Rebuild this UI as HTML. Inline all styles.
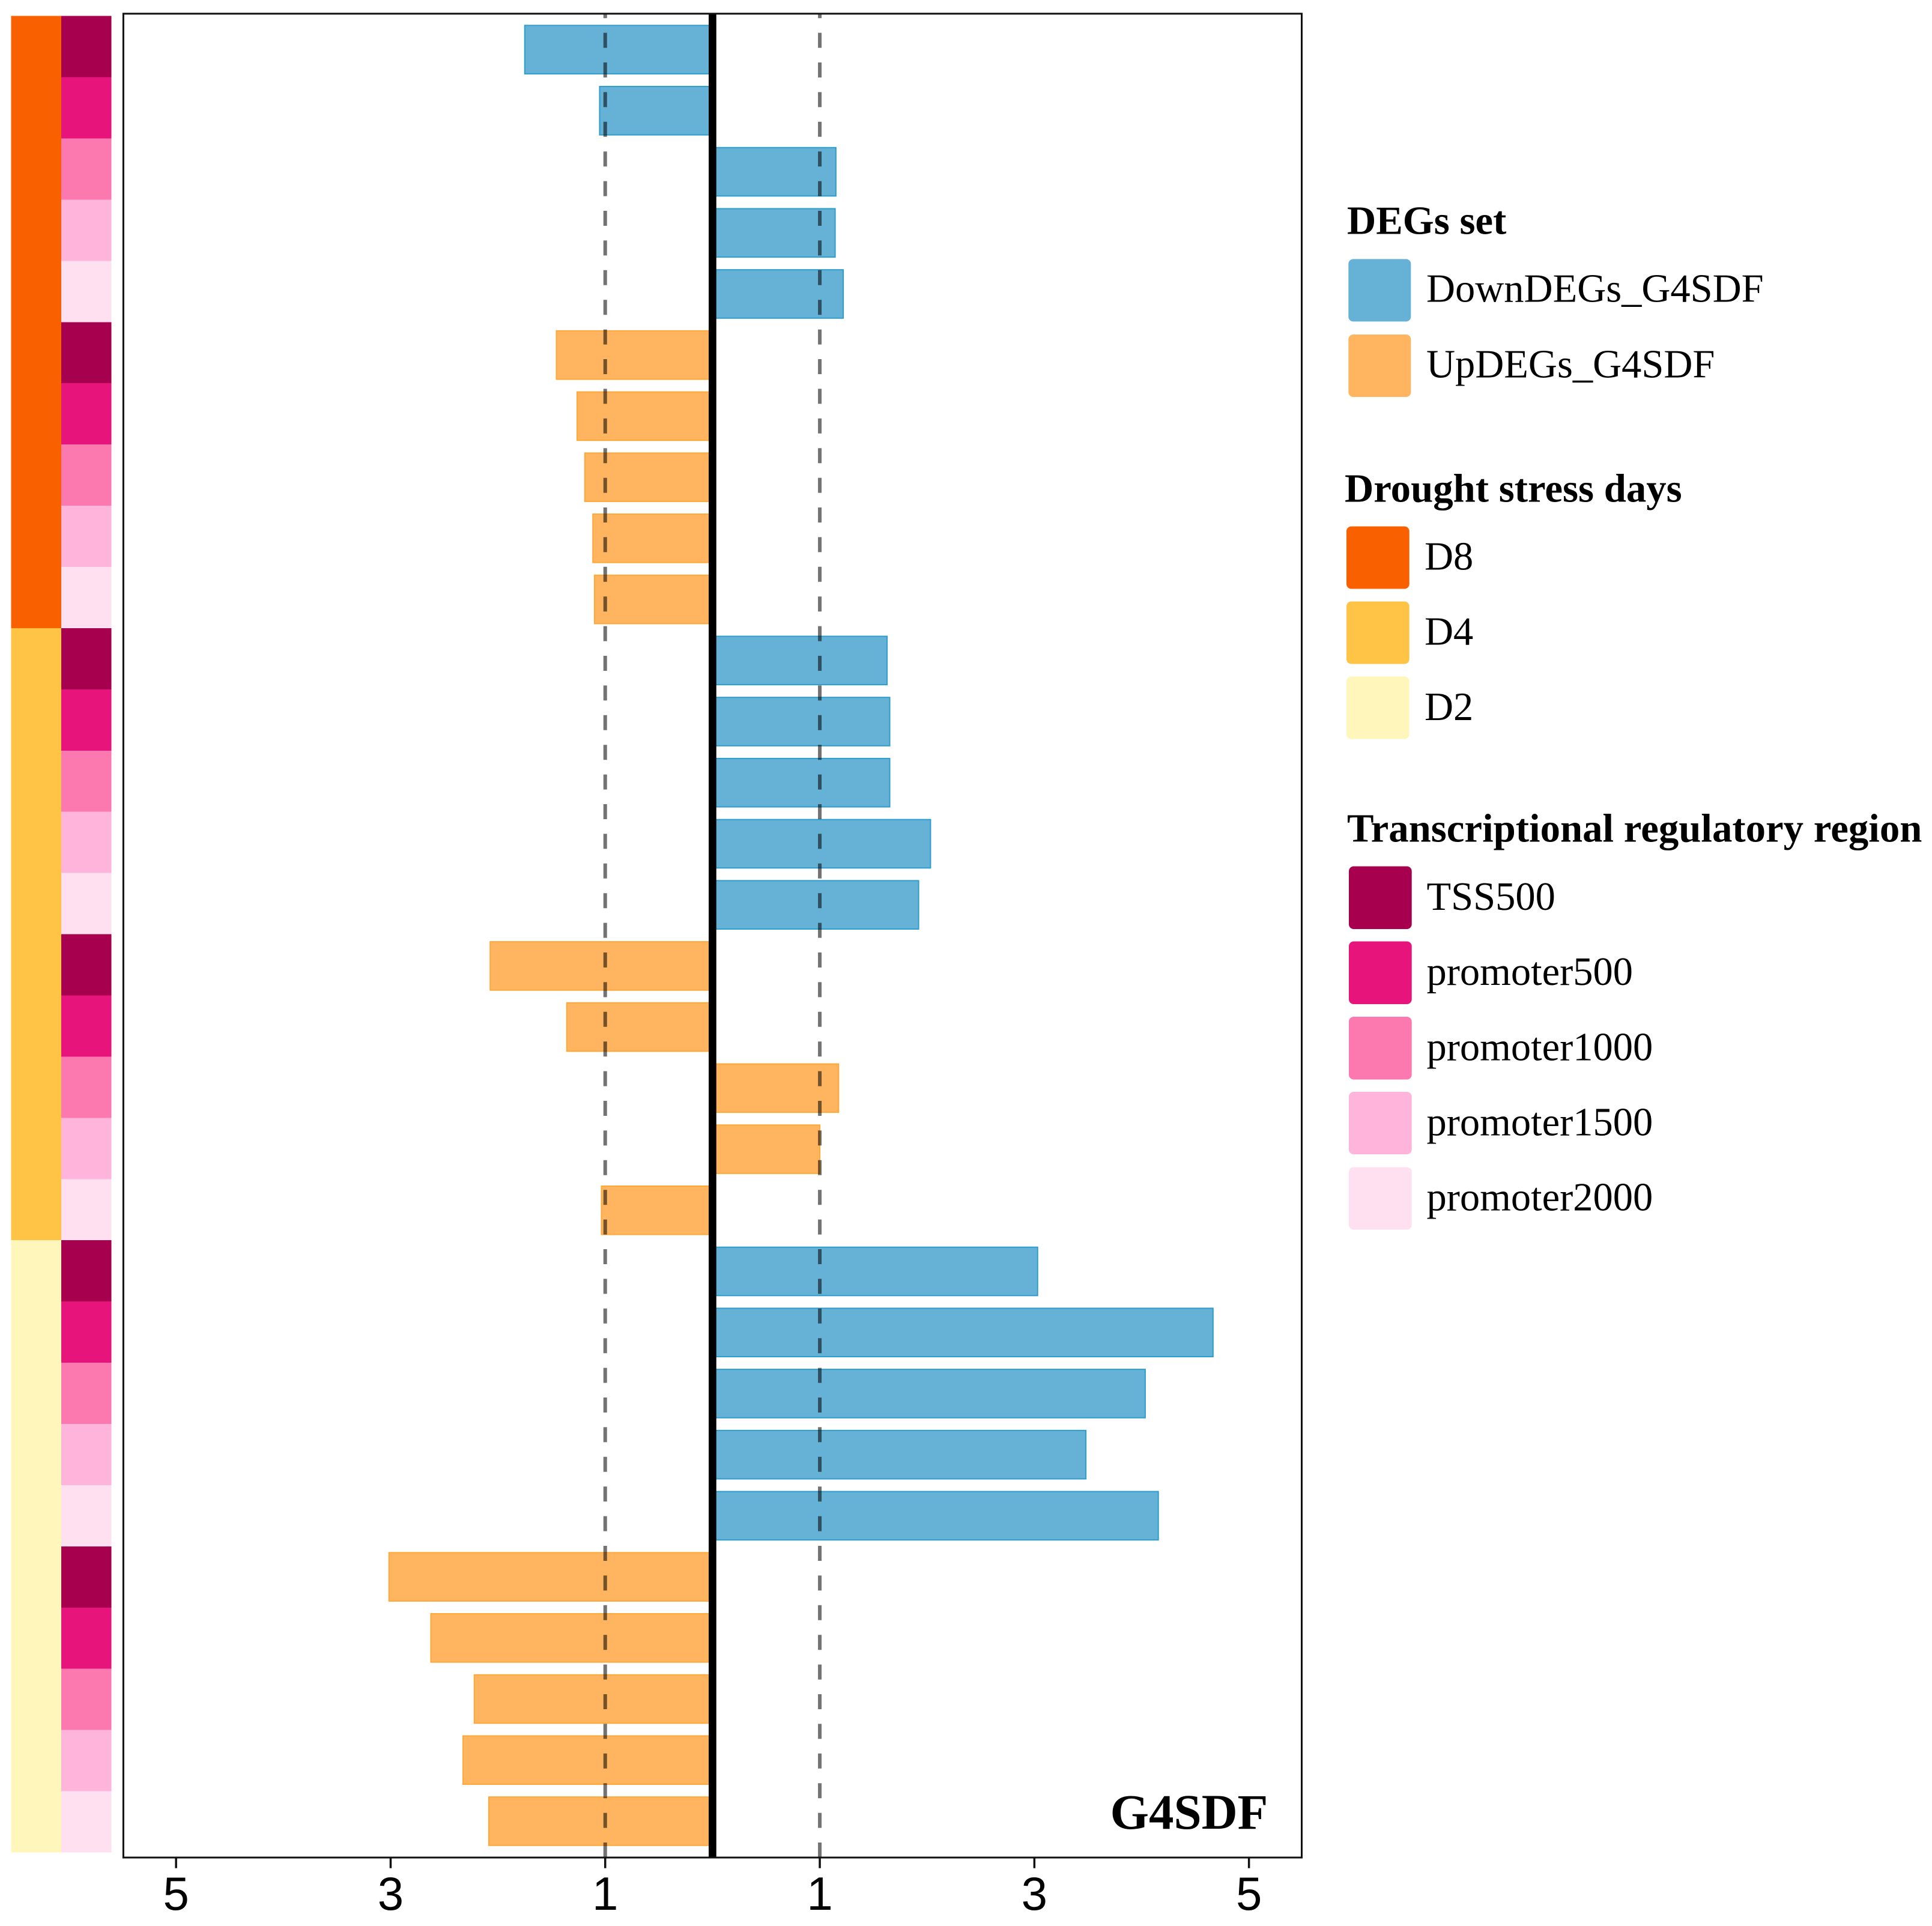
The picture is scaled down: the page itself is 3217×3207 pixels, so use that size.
<!DOCTYPE html>
<html lang="en">
<head>
<meta charset="utf-8">
<title>G4SDF DEGs chart</title>
<style>
html,body{margin:0;padding:0;background:#fff;}
svg{display:block;}
.leg-title{font-family:"Liberation Serif",serif;font-weight:bold;font-size:66.8px;fill:#000;}
.leg-label{font-family:"Liberation Serif",serif;font-size:66.5px;fill:#000;}
.tick-label{font-family:"Liberation Sans",sans-serif;font-size:78px;fill:#000;text-anchor:middle;}
.panel-tag{font-family:"Liberation Serif",serif;font-weight:bold;font-size:83px;fill:#000;}
</style>
</head>
<body>
<svg id="chart" xmlns="http://www.w3.org/2000/svg" width="3217" height="3207" viewBox="0 0 3217 3207">
  <rect x="0" y="0" width="3217" height="3207" fill="#fff"/>
  <g id="heat"></g>
  <g id="bars"></g>
  <g id="refs"></g>
  <g id="axis"></g>

  <text class="panel-tag" x="1848.5" y="3045">G4SDF</text>

  <g>
    <text class="leg-title" x="2243" y="389.5">DEGs set</text>
    <rect x="2245.3" y="431.4" width="104" height="104" rx="8" fill="#66B2D6"/>
    <text class="leg-label" x="2375" y="502.5">DownDEGs_G4SDF</text>
    <rect x="2245.3" y="557" width="104" height="104" rx="8" fill="#FFB55F"/>
    <text class="leg-label" x="2375" y="628.5">UpDEGs_G4SDF</text>
  </g>

  <g>
    <text class="leg-title" x="2239" y="835.5">Drought stress days</text>
    <rect x="2242" y="876.5" width="104.7" height="104" rx="8" fill="#F96000"/>
    <text class="leg-label" x="2372" y="948.5">D8</text>
    <rect x="2242" y="1001.5" width="104.7" height="104" rx="8" fill="#FFC445"/>
    <text class="leg-label" x="2372" y="1073.5">D4</text>
    <rect x="2242" y="1126.5" width="104.7" height="104" rx="8" fill="#FFF6BB"/>
    <text class="leg-label" x="2372" y="1199">D2</text>
  </g>

  <g>
    <text class="leg-title" x="2243" y="1401.5">Transcriptional regulatory region</text>
    <rect x="2246" y="1442.5" width="104.7" height="104.5" rx="8" fill="#A6004F"/>
    <text class="leg-label" x="2375.5" y="1515">TSS500</text>
    <rect x="2246" y="1567.5" width="104.7" height="104.5" rx="8" fill="#E7147B"/>
    <text class="leg-label" x="2375.5" y="1640">promoter500</text>
    <rect x="2246" y="1693" width="104.7" height="104.5" rx="8" fill="#FB79AF"/>
    <text class="leg-label" x="2375.5" y="1765.5">promoter1000</text>
    <rect x="2246" y="1818" width="104.7" height="104" rx="8" fill="#FFB5DB"/>
    <text class="leg-label" x="2375.5" y="1890.5">promoter1500</text>
    <rect x="2246" y="1943.5" width="104.7" height="104" rx="8" fill="#FFE0F0"/>
    <text class="leg-label" x="2375.5" y="2015.5">promoter2000</text>
  </g>
</svg>

<script>
// Data arrays, in plot order from top row to bottom row
const rowDays = ["D8","D8","D8","D8","D8","D8","D8","D8","D8","D8","D4","D4","D4","D4","D4","D4","D4","D4","D4","D4","D2","D2","D2","D2","D2","D2","D2","D2","D2","D2"];
const rowRegions = ["TSS500","promoter500","promoter1000","promoter1500","promoter2000","TSS500","promoter500","promoter1000","promoter1500","promoter2000","TSS500","promoter500","promoter1000","promoter1500","promoter2000","TSS500","promoter500","promoter1000","promoter1500","promoter2000","TSS500","promoter500","promoter1000","promoter1500","promoter2000","TSS500","promoter500","promoter1000","promoter1500","promoter2000"];
const rowSets = ["Down","Down","Down","Down","Down","Up","Up","Up","Up","Up","Down","Down","Down","Down","Down","Up","Up","Up","Up","Up","Down","Down","Down","Down","Down","Up","Up","Up","Up","Up"];
const rowValues = [-1.75,-1.052,1.15,1.143,1.218,-1.455,-1.262,-1.19,-1.115,-1.1,1.627,1.652,1.652,2.032,1.921,-2.072,-1.358,1.175,1.0,-1.035,3.03,4.665,4.033,3.48,4.155,-3.015,-2.625,-2.22,-2.325,-2.085];
const tickValues = [-5,-3,-1,1,3,5];
const tickLabels = ["5","3","1","1","3","5"];
const referenceValues = [-1,1];

const dayColors = {D8:"#F96000",D4:"#FFC445",D2:"#FFF6BB"};
const regionColors = {TSS500:"#A6004F",promoter500:"#E7147B",promoter1000:"#FB79AF",promoter1500:"#FFB5DB",promoter2000:"#FFE0F0"};
const setFill = {Down:"#66B2D6",Up:"#FFB55F"};
const setStroke = {Down:"#2E9DCD",Up:"#FFA83A"};

const NS = "http://www.w3.org/2000/svg";
const panel = {left:205.4,right:2167.5,top:22.8,bottom:3093};
function xScale(v){return 1186.4 + v*178.65;}
function barCenter(i){return 82.6 + i*101.72;}
function cellTop(i){return 26.6 + i*101.93;}
const barHeight = 80.6;
const cellHeight = 101.93;

function make(tag, attrs, parent){
  const el = document.createElementNS(NS, tag);
  for(const k in attrs){el.setAttribute(k, attrs[k]);}
  parent.appendChild(el);
  return el;
}

const heat = document.getElementById("heat");
rowDays.forEach(function(day,i){
  const el = make("rect",{x:18.5,y:cellTop(i),width:84,height:cellHeight,fill:dayColors[day],"shape-rendering":"crispEdges"},heat);
  
  
});
rowRegions.forEach(function(region,i){
  const el = make("rect",{x:102,y:cellTop(i),width:83.6,height:cellHeight,fill:regionColors[region],"shape-rendering":"crispEdges"},heat);
  
  
});

const bars = document.getElementById("bars");
rowValues.forEach(function(v,i){
  const x0 = xScale(0), x1 = xScale(v);
  const el = make("rect",{x:Math.min(x0,x1),y:barCenter(i)-barHeight/2,width:Math.abs(x1-x0),height:barHeight,fill:setFill[rowSets[i]],stroke:setStroke[rowSets[i]],"stroke-width":2},bars);
  
  
});

const refs = document.getElementById("refs");
referenceValues.forEach(function(v){
  const el = make("line",{x1:xScale(v),x2:xScale(v),y1:panel.bottom,y2:panel.top,stroke:"#000","stroke-opacity":0.55,"stroke-width":6,"stroke-dasharray":"25 24.4"},refs);
  
  
});
const zeroLine = make("line",{x1:xScale(0),x2:xScale(0),y1:panel.top,y2:panel.bottom,stroke:"#000","stroke-width":12.7},refs);



const axis = document.getElementById("axis");
const frame = make("rect",{x:panel.left,y:panel.top,width:panel.right-panel.left,height:panel.bottom-panel.top,fill:"none",stroke:"#111","stroke-width":3},axis);


tickValues.forEach(function(v,i){
  const t = make("line",{x1:xScale(v),x2:xScale(v),y1:panel.bottom,y2:3110.7,stroke:"#111","stroke-width":3.5},axis);
  
  
  const l = make("text",{x:xScale(v),y:3180,class:"tick-label"},axis);
  
  
  l.textContent = tickLabels[i];
});
</script>
</body>
</html>
